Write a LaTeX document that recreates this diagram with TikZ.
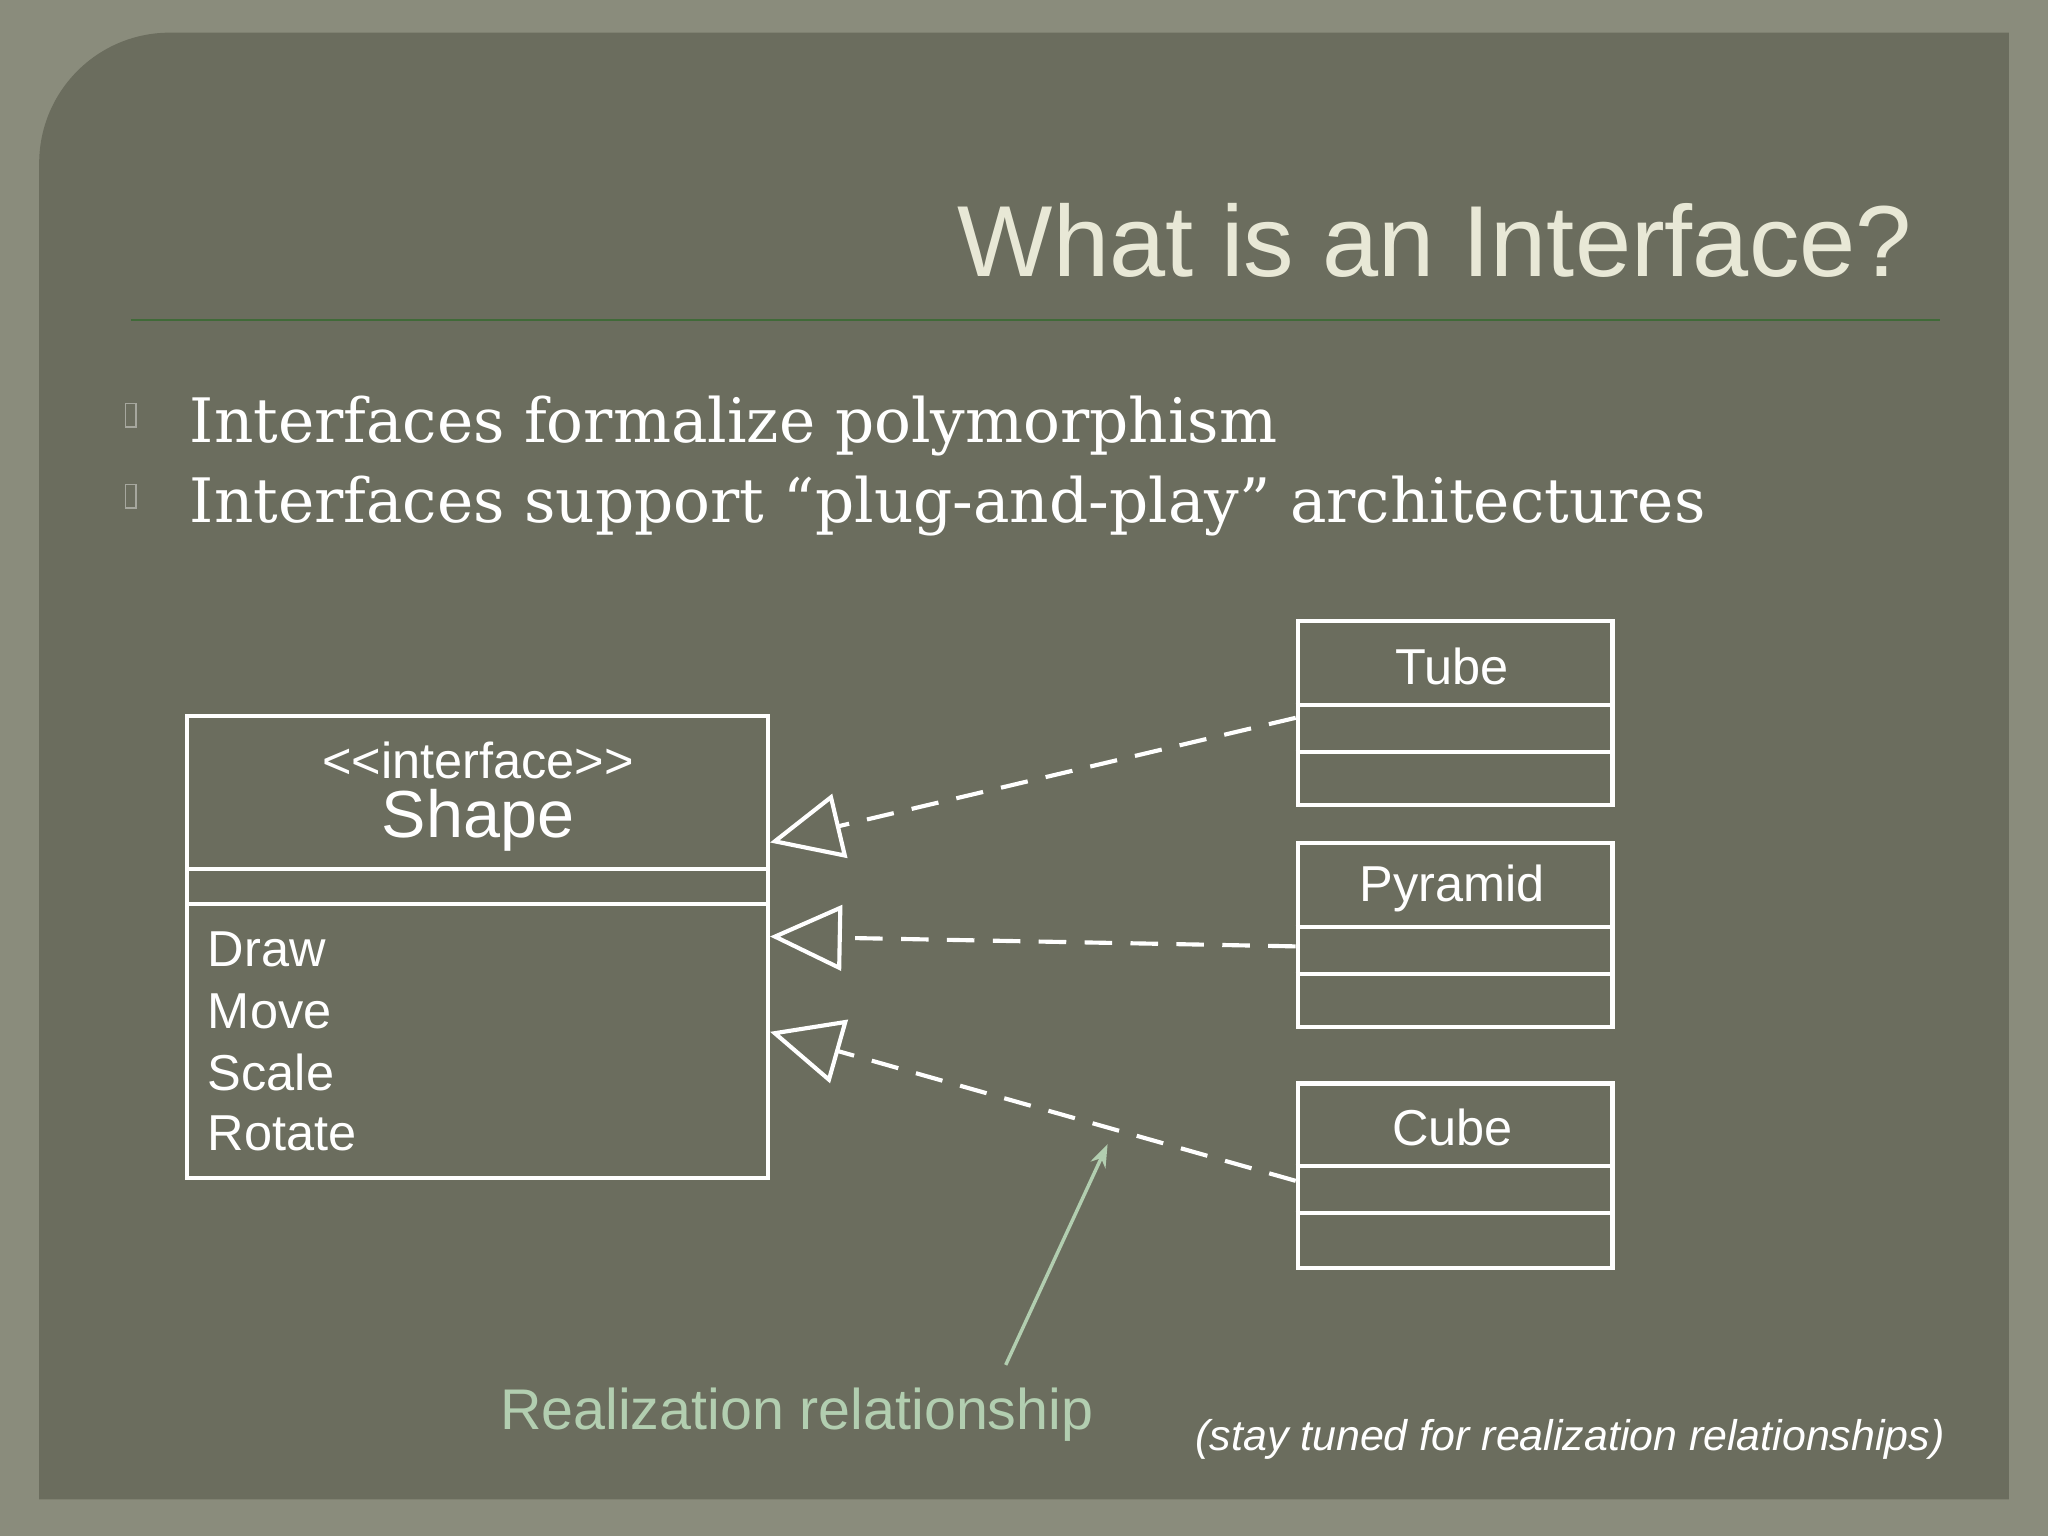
\documentclass[tikz,border=0pt]{standalone}
\usepackage{fontspec}
\setmainfont{DejaVu Serif}
\newfontfamily\sansf{Liberation Sans}
\usetikzlibrary{arrows.meta,calc}
\definecolor{frame}{RGB}{138,140,124}
\definecolor{panel}{RGB}{107,109,94}
\definecolor{titlec}{RGB}{232,232,214}
\definecolor{greenc}{RGB}{178,206,176}
\begin{document}
\begin{tikzpicture}[x=0.02cm,y=-0.02cm,
  box/.style={draw=white,line width=1.8pt,rectangle,inner sep=0pt},
  real/.style={draw=white,line width=1.8pt,dash pattern=on 12pt off 8pt,-{Triangle[open,length=1.1cm,width=1.0cm,line width=1.8pt]}},
  uml/.style={font=\sansf\fontsize{22}{24}\selectfont,text=white}]
\fill[frame] (0,0) rectangle (1568,1176);
\fill[panel] (30,1148) -- (30,125) arc[start angle=180,end angle=270,radius=100] -- (1538,25) -- (1538,1148) -- cycle;
\node[anchor=base east,text=titlec,font=\sansf\fontsize{44}{48}\selectfont] (title) at (1470,212) {What is an Interface?};
\coordinate (l1) at (100,245); \coordinate (l2) at (1485,245);
\draw[draw=black!60!green!40!panel,line width=1pt] (l1) -- (l2);
\node[anchor=base west,text=white,font=\fontsize{26.7}{30}\selectfont,inner sep=0pt] (b1) at (145,339) {Interfaces formalize polymorphism};
\node[anchor=base west,text=white,font=\fontsize{26.7}{30}\selectfont,inner sep=0pt] (b2) at (145,400) {Interfaces support “plug-and-play” architectures};
\draw[panel!60!white,line width=0.6pt] (96,309) rectangle (104,327) (96,371) rectangle (104,389);
% Shape
\node[box,minimum width=8.9cm,minimum height=7.08cm] (shape) at (365.5,725) {};
\draw[white,line width=1.8pt] (143,665) -- (588,665) (143,692) -- (588,692);
\node[uml,font=\sansf\fontsize{22}{24}\selectfont] (st) at (366,582) {<<interface>>};
\node[uml,font=\sansf\fontsize{29}{31}\selectfont] (sn) at (366,628) {Shape};
\foreach \t/\y in {Draw/727,Move/774,Scale/821,Rotate/868}
  \node[uml,anchor=west] (op\t) at (153,\y) {\t};
% classes
\foreach \n/\t/\y/\a/\b in {tube/Tube/474/540/576,pyr/Pyramid/644/710/746,cube/Cube/828/893/929}{
  \node[box,minimum width=4.82cm,minimum height=2.82cm,anchor=north west] (\n) at (992,\y) {};
  \draw[white,line width=1.8pt] (992,\a) -- (1233,\a) (992,\b) -- (1233,\b);
  \node[uml] (\n t) at (1112,{(\y+\a)/2+3}) {\t};
}
\draw[real] ([yshift=-0.07cm]tube.west) -- ([yshift=1.6cm]shape.east);
\draw[real] ([yshift=-0.17cm]pyr.west) -- ([yshift=0.16cm]shape.east);
\draw[real] ([yshift=-0.08cm]cube.west) -- ([yshift=-1.3cm]shape.east);
\node[text=greenc,font=\sansf\fontsize{25}{28}\selectfont] (rl) at (610,1083) {Realization relationship};
\coordinate (ah) at (848,876);
\draw[greenc,line width=1.5pt,-{Stealth[length=0.35cm,width=0.25cm]}] (770,1045) -- (ah);
\node[anchor=east,text=white,font=\sansf\itshape\fontsize{18.7}{21}\selectfont] (st2) at (1495,1102) {(stay tuned for realization relationships)};
\end{tikzpicture}
\end{document}
